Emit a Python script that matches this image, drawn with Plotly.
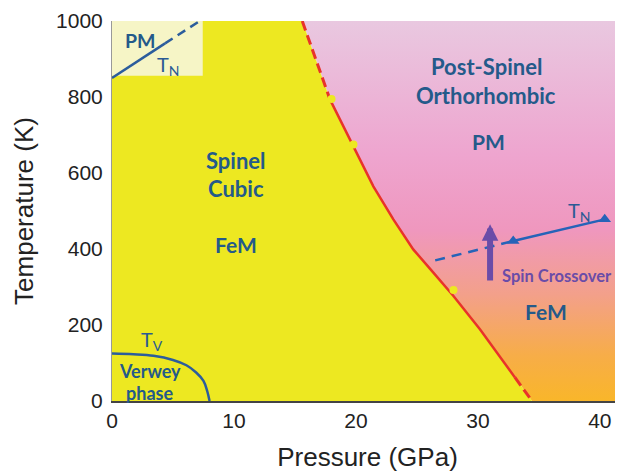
import plotly.graph_objects as go

# ---- data ----
# spinel / post-spinel boundary (GPa, K)
boundary_p = [15.6, 17.88, 19.78, 21.43, 23.07, 24.7, 26.35, 27.98, 30.17, 32.36, 33.04, 34.44]
boundary_t = [1000, 793, 670, 565, 478, 399, 338, 277, 189, 93, 62, 0]
# experimental points on the boundary
dots_p = [18.0, 19.8, 28.0]
dots_t = [795, 675, 292]
# Verwey transition T_V
verwey_p = [0.0, 1.75, 3.4, 5.0, 6.1, 6.9, 7.5, 7.8, 8.0]
verwey_t = [125, 123, 119, 108, 94, 75, 53, 27, 0]
# Neel temperature, spinel (inset)
tn_low_p_solid = [0.0, 4.35]
tn_low_t_solid = [850, 941]
tn_low_p_dash = [4.35, 7.2]
tn_low_t_dash = [941, 1000]
inset_p = [0, 7.44]
inset_t = [856, 1000]
# Neel temperature, post-spinel
tn_high_p_dash = [26.5, 32.9]
tn_high_t_dash = [370, 421]
tn_high_p = [32.9, 40.4]
tn_high_t = [421, 478]
# spin crossover arrow
spin_p = 31.0
spin_t = [313, 465]

x_range = [0, 41.9]
y_range = [0, 1000]
x_ticks = [0, 10, 20, 30, 40]
y_ticks = [0, 200, 400, 600, 800, 1000]

YELLOW = '#ede821'
RED = '#e8332a'
BLUE = '#2c5d9c'
TXT = '#245a8a'
PURPLE = '#6a4ca8'

fig = go.Figure()

# post-spinel region (gradient)
fig.add_trace(go.Scatter(
    x=boundary_p + [x_range[1], x_range[1]],
    y=boundary_t + [y_range[0], y_range[1]],
    mode='none', fill='toself',
    fillgradient=dict(type='vertical', start=0, stop=1000,
                      colorscale=[[0, '#f9b62a'], [0.12, '#f7ad48'], [0.28, '#f3a08a'],
                                  [0.45, '#ef97be'], [0.65, '#eea5cf'], [1, '#e9c8e0']]),
    hoverinfo='skip', showlegend=False))

# spinel region
fig.add_trace(go.Scatter(
    x=[0, 0] + boundary_p,
    y=[0, 1000] + boundary_t,
    mode='none', fill='toself', fillcolor=YELLOW,
    hoverinfo='skip', showlegend=False))

# inset box
fig.add_trace(go.Scatter(
    x=[inset_p[0], inset_p[1], inset_p[1], inset_p[0]],
    y=[inset_t[0], inset_t[0], inset_t[1], inset_t[1]],
    mode='none', fill='toself', fillcolor='#f6f5c6',
    hoverinfo='skip', showlegend=False))

# boundary line
fig.add_trace(go.Scatter(x=boundary_p[:2], y=boundary_t[:2], mode='lines',
                         line=dict(color=RED, width=3, dash='10px,5px'), showlegend=False))
fig.add_trace(go.Scatter(x=boundary_p[1:11], y=boundary_t[1:11], mode='lines',
                         line=dict(color=RED, width=2.5),
                         showlegend=False))
fig.add_trace(go.Scatter(x=boundary_p[10:], y=boundary_t[10:], mode='lines',
                         line=dict(color=RED, width=3, dash='10px,5px'), showlegend=False))
fig.add_trace(go.Scatter(x=dots_p, y=dots_t, mode='markers',
                         marker=dict(color=YELLOW, size=8), showlegend=False))

# Verwey
fig.add_trace(go.Scatter(x=verwey_p, y=verwey_t, mode='lines',
                         line=dict(color=BLUE, width=2.5, shape='spline'), showlegend=False))

# T_N low
fig.add_trace(go.Scatter(x=tn_low_p_solid, y=tn_low_t_solid, mode='lines',
                         line=dict(color=BLUE, width=2.5), showlegend=False))
fig.add_trace(go.Scatter(x=tn_low_p_dash, y=tn_low_t_dash, mode='lines',
                         line=dict(color=BLUE, width=2.5, dash='9px,6px'), showlegend=False))
# T_N high
fig.add_trace(go.Scatter(x=tn_high_p_dash, y=tn_high_t_dash, mode='lines',
                         line=dict(color='#2563b8', width=2.5, dash='10px,7px'), showlegend=False))
fig.add_trace(go.Scatter(x=tn_high_p, y=tn_high_t, mode='lines+markers',
                         line=dict(color='#2563b8', width=2.5),
                         marker=dict(symbol='triangle-up', size=11, color='#2563b8'),
                         showlegend=False))

# spin crossover arrow
fig.add_annotation(x=spin_p, y=spin_t[1], ax=spin_p, ay=spin_t[0], xref='x', yref='y',
                   axref='x', ayref='y', text='', showarrow=True, arrowhead=2,
                   arrowsize=0.55, arrowwidth=6, arrowcolor=PURPLE)


def label(text, x, y, size, color=TXT, bold=True, xanchor='center'):
    fig.add_annotation(x=x, y=y, text=text, showarrow=False, xanchor=xanchor,
                       font=dict(family='Lato', size=size, color=color,
                                 weight='bold' if bold else 'normal'))


label('Post-Spinel', 30.7, 880, 22)
label('Orthorhombic', 30.7, 805, 22)
label('PM', 30.85, 683, 21)
label('Spinel', 10.2, 633, 22)
label('Cubic', 10.2, 560, 22)
label('FeM', 10.2, 411, 21)
label('FeM', 35.6, 236, 21)
label('PM', 2.3, 950, 19.5)
label('T<sub>N</sub>', 4.6, 882, 20, color='#2a5a94', bold=False)
label('T<sub>N</sub>', 38.3, 500, 20, color='#2a5a94', bold=False)
label('T<sub>V</sub>', 3.3, 158, 20, color='#2a5a94', bold=False)
label('Verwey', 3.1, 78, 18)
label('phase', 3.1, 22, 18)
label('Spin Crossover', 31.85, 328, 16.5, color=PURPLE, xanchor='left')

AXFONT = 'Liberation Sans, Arial'
fig.update_layout(
    width=615, height=464,
    margin=dict(l=104, r=0, t=13, b=71),
    paper_bgcolor='white', plot_bgcolor='white',
    xaxis=dict(range=x_range, tickvals=x_ticks, showgrid=False, zeroline=False,
               showline=True, linecolor='#444', linewidth=1.5,
               ticks='',
               tickfont=dict(family=AXFONT, size=21, color='#222'),
               title=dict(text='Pressure (GPa)', standoff=23,
                          font=dict(family=AXFONT, size=26, color='#222'))),
    yaxis=dict(range=y_range, tickvals=y_ticks, showgrid=False, zeroline=False,
               showline=True, linecolor='#999', linewidth=1,
               ticks='outside', ticklen=4, tickcolor='rgba(0,0,0,0)',
               tickfont=dict(family=AXFONT, size=21, color='#222'),
               title=dict(text='Temperature (K)', standoff=14,
                          font=dict(family=AXFONT, size=26, color='#222'))),
)

fig.write_html('out.html')
